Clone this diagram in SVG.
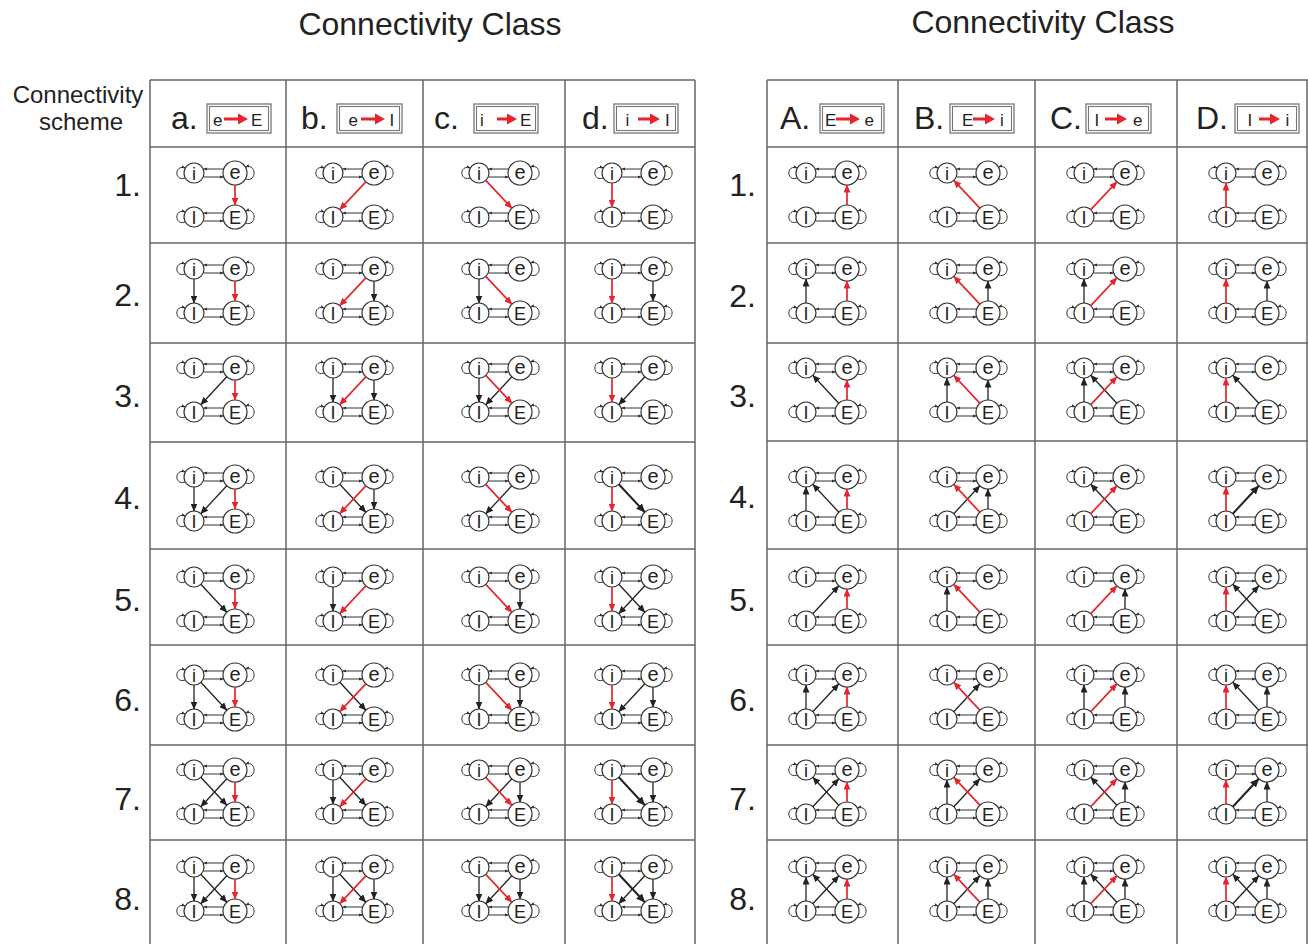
<svg xmlns="http://www.w3.org/2000/svg" xmlns:xlink="http://www.w3.org/1999/xlink" width="1308" height="944" viewBox="0 0 1308 944">
<style>
.n{fill:#fff;stroke:#333;stroke-width:1.2}
.t{font-family:"Liberation Sans",Arial,sans-serif;font-size:18px;text-anchor:middle;fill:#222}
.te{font-family:"Liberation Sans",Arial,sans-serif;font-size:20px;text-anchor:middle;fill:#222}
.lp{fill:none;stroke:#333;stroke-width:1;marker-end:url(#sm)}
.h{stroke:#333;stroke-width:1;marker-end:url(#sm)}
.r{stroke:#e8232b;stroke-width:1.7;marker-end:url(#ar)}
.k{stroke:#222;stroke-width:1.3;marker-end:url(#ak)}
.kb{stroke:#222;stroke-width:2;marker-end:url(#akb)}
.g{stroke:#666;stroke-width:1.5;fill:none}
.title{font-family:"Liberation Sans",Arial,sans-serif;font-size:32px;text-anchor:middle;fill:#222}
.side{font-family:"Liberation Sans",Arial,sans-serif;font-size:24px;text-anchor:middle;fill:#222}
.num{font-family:"Liberation Sans",Arial,sans-serif;font-size:32px;text-anchor:end;fill:#222}
.hl{font-family:"Liberation Sans",Arial,sans-serif;font-size:32px;fill:#222}
.bt{font-family:"Liberation Sans",Arial,sans-serif;font-size:17px;fill:#222}
.bo{fill:#fff;stroke:#777;stroke-width:1.3}
.bi{fill:none;stroke:#777;stroke-width:1.1}
.ba{stroke:#e8232b;stroke-width:3}
.bh{fill:#e8232b}
</style>
<defs>
<marker id="ar" viewBox="0 0 8 7" refX="7.5" refY="3.5" markerWidth="8" markerHeight="7" orient="auto" markerUnits="userSpaceOnUse"><path d="M0,0 L8,3.5 L0,7z" fill="#e8232b"/></marker>
<marker id="ak" viewBox="0 0 8 7" refX="7.5" refY="3.5" markerWidth="8" markerHeight="7" orient="auto" markerUnits="userSpaceOnUse"><path d="M0,0 L8,3.5 L0,7z" fill="#222"/></marker>
<marker id="akb" viewBox="0 0 9 8" refX="8.5" refY="4" markerWidth="9" markerHeight="8" orient="auto" markerUnits="userSpaceOnUse"><path d="M0,0 L9,4 L0,8z" fill="#222"/></marker>
<marker id="sm" viewBox="0 0 4 3.4" refX="3.8" refY="1.7" markerWidth="4" markerHeight="3.4" orient="auto" markerUnits="userSpaceOnUse"><path d="M0,0 L4,1.7 L0,3.4z" fill="#333"/></marker>
<g id="motif">
<path class="lp" d="M-8.7,5 C-20,9 -20,-9 -8.7,-5"/>
<path class="lp" d="M51.4,6 C63,10 63,-10 51.4,-6"/>
<path class="lp" d="M-8.7,49 C-20,53 -20,35 -8.7,39"/>
<path class="lp" d="M51.4,50 C63,54 63,34 51.4,38"/>
<line class="h" x1="29.5" y1="-4" x2="9.6" y2="-4"/>
<line class="h" x1="9.6" y1="4" x2="29.5" y2="4"/>
<line class="h" x1="29.5" y1="40" x2="9.6" y2="40"/>
<line class="h" x1="9.6" y1="48" x2="29.5" y2="48"/>
<circle class="n" cx="0" cy="0" r="10"/>
<circle class="n" cx="41" cy="0" r="12"/>
<circle class="n" cx="0" cy="44" r="10"/>
<circle class="n" cx="41" cy="44" r="12"/>
<text class="t" x="0" y="6.5">i</text>
<text class="te" x="41" y="5.5">e</text>
<text class="t" x="0" y="50.5">I</text>
<text class="t" x="41" y="50.5">E</text>
</g>
</defs>
<rect width="1308" height="944" fill="#fff"/>
<g id="titles">
<text class="title" x="430" y="35">Connectivity Class</text>
<text class="title" x="1043" y="33">Connectivity Class</text>
<text class="side" x="78" y="103">Connectivity</text>
<text class="side" x="81" y="130">scheme</text>
</g>
<g id="grid">
<path class="g" d="M150,80 H695 M150,80 V944 M286,80 V944 M423,80 V944 M565,80 V944 M695,80 V944"/>
<path class="g" d="M150,243 H695 M150,343 H695 M150,442 H695 M150,549 H695 M150,645 H695 M150,745 H695 M150,840 H695"/>
<path class="g" stroke-width="2" d="M150,147 H695"/>
<path class="g" d="M767,80 H1308 M767,80 V944 M898,80 V944 M1035,80 V944 M1177,80 V944 M1307,80 V944"/>
<path class="g" d="M767,243 H1308 M767,343 H1308 M767,441 H1308 M767,549 H1308 M767,645 H1308 M767,745 H1308 M767,840 H1308"/>
<path class="g" stroke-width="2" d="M767,147 H1308"/>
</g>
<g id="row-numbers">
<text class="num" x="141" y="196">1.</text>
<text class="num" x="141" y="306">2.</text>
<text class="num" x="141" y="407">3.</text>
<text class="num" x="141" y="509">4.</text>
<text class="num" x="141" y="611">5.</text>
<text class="num" x="141" y="711">6.</text>
<text class="num" x="141" y="810">7.</text>
<text class="num" x="141" y="910">8.</text>
<text class="num" x="756" y="196">1.</text>
<text class="num" x="756" y="307">2.</text>
<text class="num" x="756" y="407">3.</text>
<text class="num" x="756" y="508">4.</text>
<text class="num" x="756" y="611">5.</text>
<text class="num" x="756" y="711">6.</text>
<text class="num" x="756" y="810">7.</text>
<text class="num" x="756" y="910">8.</text>
</g>
<g id="headers">
<g id="hdr-a"><text class="hl" x="171" y="129">a.</text><rect class="bo" x="207" y="104" width="64" height="29"/><rect class="bi" x="209.5" y="106.5" width="59" height="24"/><text class="bt" x="213" y="126">e</text><line class="ba" x1="224" y1="119" x2="239" y2="119"/><path class="bh" d="M238,113.5 L248,119 L238,124.5z"/><text class="bt" x="251" y="126">E</text></g>
<g id="hdr-b"><text class="hl" x="301" y="129">b.</text><rect class="bo" x="337" y="104" width="65" height="29"/><rect class="bi" x="339.5" y="106.5" width="60" height="24"/><text class="bt" x="348.5" y="126">e</text><line class="ba" x1="361" y1="119" x2="376" y2="119"/><path class="bh" d="M375,113.5 L385,119 L375,124.5z"/><text class="bt" x="389.5" y="126">I</text></g>
<g id="hdr-c"><text class="hl" x="434" y="129">c.</text><rect class="bo" x="474" y="104" width="64" height="29"/><rect class="bi" x="476.5" y="106.5" width="59" height="24"/><text class="bt" x="480" y="126">i</text><line class="ba" x1="497" y1="119" x2="508" y2="119"/><path class="bh" d="M507,113.5 L517,119 L507,124.5z"/><text class="bt" x="520" y="126">E</text></g>
<g id="hdr-d"><text class="hl" x="582" y="129">d.</text><rect class="bo" x="614" y="104" width="64" height="29"/><rect class="bi" x="616.5" y="106.5" width="59" height="24"/><text class="bt" x="625.5" y="126">i</text><line class="ba" x1="638" y1="119" x2="651" y2="119"/><path class="bh" d="M650,113.5 L660,119 L650,124.5z"/><text class="bt" x="665" y="126">I</text></g>
<g id="hdr-A"><text class="hl" x="780" y="129">A.</text><rect class="bo" x="820" y="104" width="64" height="29"/><rect class="bi" x="822.5" y="106.5" width="59" height="24"/><text class="bt" x="825" y="126">E</text><line class="ba" x1="836" y1="119" x2="851" y2="119"/><path class="bh" d="M850,113.5 L860,119 L850,124.5z"/><text class="bt" x="864.5" y="126">e</text></g>
<g id="hdr-B"><text class="hl" x="914" y="129">B.</text><rect class="bo" x="950" y="104" width="64" height="29"/><rect class="bi" x="952.5" y="106.5" width="59" height="24"/><text class="bt" x="962" y="126">E</text><line class="ba" x1="973" y1="119" x2="986" y2="119"/><path class="bh" d="M985,113.5 L995,119 L985,124.5z"/><text class="bt" x="1000" y="126">i</text></g>
<g id="hdr-C"><text class="hl" x="1050" y="129">C.</text><rect class="bo" x="1086" y="104" width="65" height="29"/><rect class="bi" x="1088.5" y="106.5" width="60" height="24"/><text class="bt" x="1094.5" y="126">I</text><line class="ba" x1="1105" y1="119" x2="1118" y2="119"/><path class="bh" d="M1117,113.5 L1127,119 L1117,124.5z"/><text class="bt" x="1133" y="126">e</text></g>
<g id="hdr-D"><text class="hl" x="1196" y="129">D.</text><rect class="bo" x="1235" y="104" width="64" height="29"/><rect class="bi" x="1237.5" y="106.5" width="59" height="24"/><text class="bt" x="1247.5" y="126">I</text><line class="ba" x1="1259" y1="119" x2="1271" y2="119"/><path class="bh" d="M1270,113.5 L1280,119 L1270,124.5z"/><text class="bt" x="1285.5" y="126">i</text></g>
</g>
<g id="nodes">
<g id="cell-a1" transform="translate(194,173)"><use href="#motif"/></g>
<g id="cell-a2" transform="translate(194,269)"><use href="#motif"/></g>
<g id="cell-a3" transform="translate(194,368)"><use href="#motif"/></g>
<g id="cell-a4" transform="translate(194,477)"><use href="#motif"/></g>
<g id="cell-a5" transform="translate(194,577)"><use href="#motif"/></g>
<g id="cell-a6" transform="translate(194,675)"><use href="#motif"/></g>
<g id="cell-a7" transform="translate(194,770)"><use href="#motif"/></g>
<g id="cell-a8" transform="translate(194,867)"><use href="#motif"/></g>
<g id="cell-b1" transform="translate(333,173)"><use href="#motif"/></g>
<g id="cell-b2" transform="translate(333,269)"><use href="#motif"/></g>
<g id="cell-b3" transform="translate(333,368)"><use href="#motif"/></g>
<g id="cell-b4" transform="translate(333,477)"><use href="#motif"/></g>
<g id="cell-b5" transform="translate(333,577)"><use href="#motif"/></g>
<g id="cell-b6" transform="translate(333,675)"><use href="#motif"/></g>
<g id="cell-b7" transform="translate(333,770)"><use href="#motif"/></g>
<g id="cell-b8" transform="translate(333,867)"><use href="#motif"/></g>
<g id="cell-c1" transform="translate(479,173)"><use href="#motif"/></g>
<g id="cell-c2" transform="translate(479,269)"><use href="#motif"/></g>
<g id="cell-c3" transform="translate(479,368)"><use href="#motif"/></g>
<g id="cell-c4" transform="translate(479,477)"><use href="#motif"/></g>
<g id="cell-c5" transform="translate(479,577)"><use href="#motif"/></g>
<g id="cell-c6" transform="translate(479,675)"><use href="#motif"/></g>
<g id="cell-c7" transform="translate(479,770)"><use href="#motif"/></g>
<g id="cell-c8" transform="translate(479,867)"><use href="#motif"/></g>
<g id="cell-d1" transform="translate(612,173)"><use href="#motif"/></g>
<g id="cell-d2" transform="translate(612,269)"><use href="#motif"/></g>
<g id="cell-d3" transform="translate(612,368)"><use href="#motif"/></g>
<g id="cell-d4" transform="translate(612,477)"><use href="#motif"/></g>
<g id="cell-d5" transform="translate(612,577)"><use href="#motif"/></g>
<g id="cell-d6" transform="translate(612,675)"><use href="#motif"/></g>
<g id="cell-d7" transform="translate(612,770)"><use href="#motif"/></g>
<g id="cell-d8" transform="translate(612,867)"><use href="#motif"/></g>
<g id="cell-A1" transform="translate(806,173)"><use href="#motif"/></g>
<g id="cell-A2" transform="translate(806,269)"><use href="#motif"/></g>
<g id="cell-A3" transform="translate(806,368)"><use href="#motif"/></g>
<g id="cell-A4" transform="translate(806,477)"><use href="#motif"/></g>
<g id="cell-A5" transform="translate(806,577)"><use href="#motif"/></g>
<g id="cell-A6" transform="translate(806,675)"><use href="#motif"/></g>
<g id="cell-A7" transform="translate(806,770)"><use href="#motif"/></g>
<g id="cell-A8" transform="translate(806,867)"><use href="#motif"/></g>
<g id="cell-B1" transform="translate(947,173)"><use href="#motif"/></g>
<g id="cell-B2" transform="translate(947,269)"><use href="#motif"/></g>
<g id="cell-B3" transform="translate(947,368)"><use href="#motif"/></g>
<g id="cell-B4" transform="translate(947,477)"><use href="#motif"/></g>
<g id="cell-B5" transform="translate(947,577)"><use href="#motif"/></g>
<g id="cell-B6" transform="translate(947,675)"><use href="#motif"/></g>
<g id="cell-B7" transform="translate(947,770)"><use href="#motif"/></g>
<g id="cell-B8" transform="translate(947,867)"><use href="#motif"/></g>
<g id="cell-C1" transform="translate(1084,173)"><use href="#motif"/></g>
<g id="cell-C2" transform="translate(1084,269)"><use href="#motif"/></g>
<g id="cell-C3" transform="translate(1084,368)"><use href="#motif"/></g>
<g id="cell-C4" transform="translate(1084,477)"><use href="#motif"/></g>
<g id="cell-C5" transform="translate(1084,577)"><use href="#motif"/></g>
<g id="cell-C6" transform="translate(1084,675)"><use href="#motif"/></g>
<g id="cell-C7" transform="translate(1084,770)"><use href="#motif"/></g>
<g id="cell-C8" transform="translate(1084,867)"><use href="#motif"/></g>
<g id="cell-D1" transform="translate(1226,173)"><use href="#motif"/></g>
<g id="cell-D2" transform="translate(1226,269)"><use href="#motif"/></g>
<g id="cell-D3" transform="translate(1226,368)"><use href="#motif"/></g>
<g id="cell-D4" transform="translate(1226,477)"><use href="#motif"/></g>
<g id="cell-D5" transform="translate(1226,577)"><use href="#motif"/></g>
<g id="cell-D6" transform="translate(1226,675)"><use href="#motif"/></g>
<g id="cell-D7" transform="translate(1226,770)"><use href="#motif"/></g>
<g id="cell-D8" transform="translate(1226,867)"><use href="#motif"/></g>
</g>
<g id="connectors">
<g transform="translate(194,173)"><line class="r" x1="41" y1="12" x2="41" y2="32"/></g>
<g transform="translate(194,269)"><line class="k" x1="0" y1="10" x2="0" y2="34"/><line class="r" x1="41" y1="12" x2="41" y2="32"/></g>
<g transform="translate(194,368)"><line class="k" x1="32.8" y1="8.8" x2="6.8" y2="36.7"/><line class="r" x1="41" y1="12" x2="41" y2="32"/></g>
<g transform="translate(194,477)"><line class="k" x1="0" y1="10" x2="0" y2="34"/><line class="k" x1="32.8" y1="8.8" x2="6.8" y2="36.7"/><line class="r" x1="41" y1="12" x2="41" y2="32"/></g>
<g transform="translate(194,577)"><line class="k" x1="6.8" y1="7.3" x2="32.8" y2="35.2"/><line class="r" x1="41" y1="12" x2="41" y2="32"/></g>
<g transform="translate(194,675)"><line class="k" x1="0" y1="10" x2="0" y2="34"/><line class="k" x1="6.8" y1="7.3" x2="32.8" y2="35.2"/><line class="r" x1="41" y1="12" x2="41" y2="32"/></g>
<g transform="translate(194,770)"><line class="k" x1="32.8" y1="8.8" x2="6.8" y2="36.7"/><line class="k" x1="6.8" y1="7.3" x2="32.8" y2="35.2"/><line class="r" x1="41" y1="12" x2="41" y2="32"/></g>
<g transform="translate(194,867)"><line class="k" x1="0" y1="10" x2="0" y2="34"/><line class="k" x1="32.8" y1="8.8" x2="6.8" y2="36.7"/><line class="k" x1="6.8" y1="7.3" x2="32.8" y2="35.2"/><line class="r" x1="41" y1="12" x2="41" y2="32"/></g>
<g transform="translate(333,173)"><line class="r" x1="32.8" y1="8.8" x2="6.8" y2="36.7"/></g>
<g transform="translate(333,269)"><line class="k" x1="41" y1="12" x2="41" y2="32"/><line class="r" x1="32.8" y1="8.8" x2="6.8" y2="36.7"/></g>
<g transform="translate(333,368)"><line class="k" x1="0" y1="10" x2="0" y2="34"/><line class="k" x1="41" y1="12" x2="41" y2="32"/><line class="r" x1="32.8" y1="8.8" x2="6.8" y2="36.7"/></g>
<g transform="translate(333,477)"><line class="k" x1="6.8" y1="7.3" x2="32.8" y2="35.2"/><line class="k" x1="41" y1="12" x2="41" y2="32"/><line class="r" x1="32.8" y1="8.8" x2="6.8" y2="36.7"/></g>
<g transform="translate(333,577)"><line class="k" x1="0" y1="10" x2="0" y2="34"/><line class="r" x1="32.8" y1="8.8" x2="6.8" y2="36.7"/></g>
<g transform="translate(333,675)"><line class="k" x1="6.8" y1="7.3" x2="32.8" y2="35.2"/><line class="r" x1="32.8" y1="8.8" x2="6.8" y2="36.7"/></g>
<g transform="translate(333,770)"><line class="k" x1="0" y1="10" x2="0" y2="34"/><line class="k" x1="6.8" y1="7.3" x2="32.8" y2="35.2"/><line class="r" x1="32.8" y1="8.8" x2="6.8" y2="36.7"/></g>
<g transform="translate(333,867)"><line class="k" x1="0" y1="10" x2="0" y2="34"/><line class="k" x1="6.8" y1="7.3" x2="32.8" y2="35.2"/><line class="k" x1="41" y1="12" x2="41" y2="32"/><line class="r" x1="32.8" y1="8.8" x2="6.8" y2="36.7"/></g>
<g transform="translate(479,173)"><line class="r" x1="6.8" y1="7.3" x2="32.8" y2="35.2"/></g>
<g transform="translate(479,269)"><line class="k" x1="0" y1="10" x2="0" y2="34"/><line class="r" x1="6.8" y1="7.3" x2="32.8" y2="35.2"/></g>
<g transform="translate(479,368)"><line class="k" x1="0" y1="10" x2="0" y2="34"/><line class="k" x1="32.8" y1="8.8" x2="6.8" y2="36.7"/><line class="r" x1="6.8" y1="7.3" x2="32.8" y2="35.2"/></g>
<g transform="translate(479,477)"><line class="k" x1="32.8" y1="8.8" x2="6.8" y2="36.7"/><line class="r" x1="6.8" y1="7.3" x2="32.8" y2="35.2"/></g>
<g transform="translate(479,577)"><line class="k" x1="41" y1="12" x2="41" y2="32"/><line class="r" x1="6.8" y1="7.3" x2="32.8" y2="35.2"/></g>
<g transform="translate(479,675)"><line class="k" x1="0" y1="10" x2="0" y2="34"/><line class="k" x1="41" y1="12" x2="41" y2="32"/><line class="r" x1="6.8" y1="7.3" x2="32.8" y2="35.2"/></g>
<g transform="translate(479,770)"><line class="k" x1="32.8" y1="8.8" x2="6.8" y2="36.7"/><line class="k" x1="41" y1="12" x2="41" y2="32"/><line class="r" x1="6.8" y1="7.3" x2="32.8" y2="35.2"/></g>
<g transform="translate(479,867)"><line class="k" x1="0" y1="10" x2="0" y2="34"/><line class="k" x1="32.8" y1="8.8" x2="6.8" y2="36.7"/><line class="k" x1="41" y1="12" x2="41" y2="32"/><line class="r" x1="6.8" y1="7.3" x2="32.8" y2="35.2"/></g>
<g transform="translate(612,173)"><line class="r" x1="0" y1="10" x2="0" y2="34"/></g>
<g transform="translate(612,269)"><line class="k" x1="41" y1="12" x2="41" y2="32"/><line class="r" x1="0" y1="10" x2="0" y2="34"/></g>
<g transform="translate(612,368)"><line class="k" x1="32.8" y1="8.8" x2="6.8" y2="36.7"/><line class="r" x1="0" y1="10" x2="0" y2="34"/></g>
<g transform="translate(612,477)"><line class="kb" x1="6.8" y1="7.3" x2="32.8" y2="35.2"/><line class="r" x1="0" y1="10" x2="0" y2="34"/></g>
<g transform="translate(612,577)"><line class="k" x1="32.8" y1="8.8" x2="6.8" y2="36.7"/><line class="k" x1="6.8" y1="7.3" x2="32.8" y2="35.2"/><line class="r" x1="0" y1="10" x2="0" y2="34"/></g>
<g transform="translate(612,675)"><line class="k" x1="32.8" y1="8.8" x2="6.8" y2="36.7"/><line class="k" x1="41" y1="12" x2="41" y2="32"/><line class="r" x1="0" y1="10" x2="0" y2="34"/></g>
<g transform="translate(612,770)"><line class="kb" x1="6.8" y1="7.3" x2="32.8" y2="35.2"/><line class="k" x1="41" y1="12" x2="41" y2="32"/><line class="r" x1="0" y1="10" x2="0" y2="34"/></g>
<g transform="translate(612,867)"><line class="k" x1="32.8" y1="8.8" x2="6.8" y2="36.7"/><line class="kb" x1="6.8" y1="7.3" x2="32.8" y2="35.2"/><line class="k" x1="41" y1="12" x2="41" y2="32"/><line class="r" x1="0" y1="10" x2="0" y2="34"/></g>
<g transform="translate(806,173)"><line class="r" x1="41" y1="32" x2="41" y2="12"/></g>
<g transform="translate(806,269)"><line class="k" x1="0" y1="34" x2="0" y2="10"/><line class="r" x1="41" y1="32" x2="41" y2="12"/></g>
<g transform="translate(806,368)"><line class="k" x1="32.8" y1="35.2" x2="6.8" y2="7.3"/><line class="r" x1="41" y1="32" x2="41" y2="12"/></g>
<g transform="translate(806,477)"><line class="k" x1="0" y1="34" x2="0" y2="10"/><line class="k" x1="32.8" y1="35.2" x2="6.8" y2="7.3"/><line class="r" x1="41" y1="32" x2="41" y2="12"/></g>
<g transform="translate(806,577)"><line class="k" x1="6.8" y1="36.7" x2="32.8" y2="8.8"/><line class="r" x1="41" y1="32" x2="41" y2="12"/></g>
<g transform="translate(806,675)"><line class="k" x1="0" y1="34" x2="0" y2="10"/><line class="k" x1="6.8" y1="36.7" x2="32.8" y2="8.8"/><line class="r" x1="41" y1="32" x2="41" y2="12"/></g>
<g transform="translate(806,770)"><line class="k" x1="32.8" y1="35.2" x2="6.8" y2="7.3"/><line class="k" x1="6.8" y1="36.7" x2="32.8" y2="8.8"/><line class="r" x1="41" y1="32" x2="41" y2="12"/></g>
<g transform="translate(806,867)"><line class="k" x1="0" y1="34" x2="0" y2="10"/><line class="k" x1="32.8" y1="35.2" x2="6.8" y2="7.3"/><line class="k" x1="6.8" y1="36.7" x2="32.8" y2="8.8"/><line class="r" x1="41" y1="32" x2="41" y2="12"/></g>
<g transform="translate(947,173)"><line class="r" x1="32.8" y1="35.2" x2="6.8" y2="7.3"/></g>
<g transform="translate(947,269)"><line class="k" x1="41" y1="32" x2="41" y2="12"/><line class="r" x1="32.8" y1="35.2" x2="6.8" y2="7.3"/></g>
<g transform="translate(947,368)"><line class="k" x1="0" y1="34" x2="0" y2="10"/><line class="k" x1="41" y1="32" x2="41" y2="12"/><line class="r" x1="32.8" y1="35.2" x2="6.8" y2="7.3"/></g>
<g transform="translate(947,477)"><line class="k" x1="6.8" y1="36.7" x2="32.8" y2="8.8"/><line class="k" x1="41" y1="32" x2="41" y2="12"/><line class="r" x1="32.8" y1="35.2" x2="6.8" y2="7.3"/></g>
<g transform="translate(947,577)"><line class="k" x1="0" y1="34" x2="0" y2="10"/><line class="r" x1="32.8" y1="35.2" x2="6.8" y2="7.3"/></g>
<g transform="translate(947,675)"><line class="k" x1="6.8" y1="36.7" x2="32.8" y2="8.8"/><line class="r" x1="32.8" y1="35.2" x2="6.8" y2="7.3"/></g>
<g transform="translate(947,770)"><line class="k" x1="0" y1="34" x2="0" y2="10"/><line class="k" x1="6.8" y1="36.7" x2="32.8" y2="8.8"/><line class="r" x1="32.8" y1="35.2" x2="6.8" y2="7.3"/></g>
<g transform="translate(947,867)"><line class="k" x1="0" y1="34" x2="0" y2="10"/><line class="k" x1="6.8" y1="36.7" x2="32.8" y2="8.8"/><line class="k" x1="41" y1="32" x2="41" y2="12"/><line class="r" x1="32.8" y1="35.2" x2="6.8" y2="7.3"/></g>
<g transform="translate(1084,173)"><line class="r" x1="6.8" y1="36.7" x2="32.8" y2="8.8"/></g>
<g transform="translate(1084,269)"><line class="k" x1="0" y1="34" x2="0" y2="10"/><line class="r" x1="6.8" y1="36.7" x2="32.8" y2="8.8"/></g>
<g transform="translate(1084,368)"><line class="k" x1="0" y1="34" x2="0" y2="10"/><line class="k" x1="32.8" y1="35.2" x2="6.8" y2="7.3"/><line class="r" x1="6.8" y1="36.7" x2="32.8" y2="8.8"/></g>
<g transform="translate(1084,477)"><line class="k" x1="32.8" y1="35.2" x2="6.8" y2="7.3"/><line class="r" x1="6.8" y1="36.7" x2="32.8" y2="8.8"/></g>
<g transform="translate(1084,577)"><line class="k" x1="41" y1="32" x2="41" y2="12"/><line class="r" x1="6.8" y1="36.7" x2="32.8" y2="8.8"/></g>
<g transform="translate(1084,675)"><line class="k" x1="0" y1="34" x2="0" y2="10"/><line class="k" x1="41" y1="32" x2="41" y2="12"/><line class="r" x1="6.8" y1="36.7" x2="32.8" y2="8.8"/></g>
<g transform="translate(1084,770)"><line class="k" x1="32.8" y1="35.2" x2="6.8" y2="7.3"/><line class="k" x1="41" y1="32" x2="41" y2="12"/><line class="r" x1="6.8" y1="36.7" x2="32.8" y2="8.8"/></g>
<g transform="translate(1084,867)"><line class="k" x1="0" y1="34" x2="0" y2="10"/><line class="k" x1="32.8" y1="35.2" x2="6.8" y2="7.3"/><line class="k" x1="41" y1="32" x2="41" y2="12"/><line class="r" x1="6.8" y1="36.7" x2="32.8" y2="8.8"/></g>
<g transform="translate(1226,173)"><line class="r" x1="0" y1="34" x2="0" y2="10"/></g>
<g transform="translate(1226,269)"><line class="k" x1="41" y1="32" x2="41" y2="12"/><line class="r" x1="0" y1="34" x2="0" y2="10"/></g>
<g transform="translate(1226,368)"><line class="k" x1="32.8" y1="35.2" x2="6.8" y2="7.3"/><line class="r" x1="0" y1="34" x2="0" y2="10"/></g>
<g transform="translate(1226,477)"><line class="kb" x1="6.8" y1="36.7" x2="32.8" y2="8.8"/><line class="r" x1="0" y1="34" x2="0" y2="10"/></g>
<g transform="translate(1226,577)"><line class="k" x1="32.8" y1="35.2" x2="6.8" y2="7.3"/><line class="k" x1="6.8" y1="36.7" x2="32.8" y2="8.8"/><line class="r" x1="0" y1="34" x2="0" y2="10"/></g>
<g transform="translate(1226,675)"><line class="k" x1="32.8" y1="35.2" x2="6.8" y2="7.3"/><line class="k" x1="41" y1="32" x2="41" y2="12"/><line class="r" x1="0" y1="34" x2="0" y2="10"/></g>
<g transform="translate(1226,770)"><line class="kb" x1="6.8" y1="36.7" x2="32.8" y2="8.8"/><line class="k" x1="41" y1="32" x2="41" y2="12"/><line class="r" x1="0" y1="34" x2="0" y2="10"/></g>
<g transform="translate(1226,867)"><line class="k" x1="32.8" y1="35.2" x2="6.8" y2="7.3"/><line class="k" x1="6.8" y1="36.7" x2="32.8" y2="8.8"/><line class="k" x1="41" y1="32" x2="41" y2="12"/><line class="r" x1="0" y1="34" x2="0" y2="10"/></g>
</g>
</svg>
